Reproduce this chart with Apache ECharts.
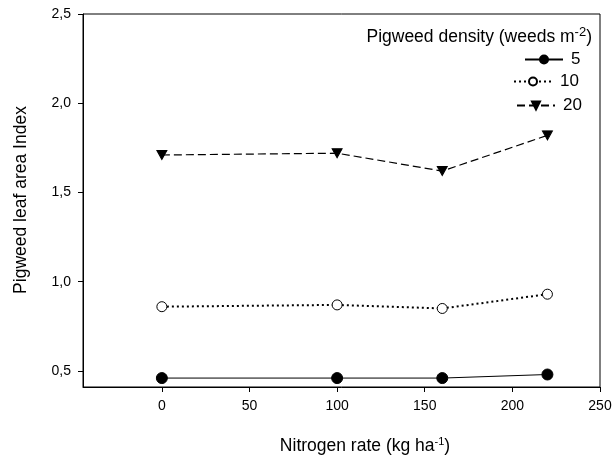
<!DOCTYPE html>
<html><head><meta charset="utf-8">
<script src="https://cdn.jsdelivr.net/npm/echarts@6/dist/echarts.min.js"></script>
<style>html,body{margin:0;padding:0;background:#fff}#c{width:613px;height:462px}</style>
</head><body><div id="c"></div>
<script>
const nitrogen = [0, 100, 160, 220];
const density5 = [0.46, 0.46, 0.46, 0.48];
const density10 = [0.86, 0.87, 0.85, 0.93];
const density20 = [1.71, 1.72, 1.62, 1.82];
const seriesNames = ['5', '10', '20'];
const xTicks = [0, 50, 100, 150, 200, 250];
const yTicks = [0.5, 1.0, 1.5, 2.0, 2.5];

const FONT = "'Liberation Sans', Arial, sans-serif";
const pair = (ys) => nitrogen.map((x, i) => [x, ys[i]]);
const chart = echarts.init(document.getElementById('c'), null, {renderer: 'canvas'});

function legendFor(name, left, top) {
  return {
    data: [name], orient: 'vertical', left: left, top: top,
    itemWidth: 38, itemHeight: 10, itemGap: 0, padding: 0,
    textStyle: {fontFamily: FONT, fontSize: 17, color: '#000', padding: [0, 0, 0, 3]},
    selectedMode: false
  };
}

chart.setOption({
  animation: false,
  grid: {left: 83, right: 13, top: 14, bottom: 75, show: true, borderColor: '#000', borderWidth: 1, outerBoundsMode: 'none'},
  xAxis: {
    type: 'value', min: -45, max: 250,
    axisLine: {show: true, onZero: false, lineStyle: {color: '#000', width: 1}},
    axisTick: {show: true, length: 5, inside: false, customValues: xTicks, lineStyle: {color: '#000'}},
    axisLabel: {customValues: xTicks, margin: 12, fontFamily: FONT, fontSize: 14, color: '#000'},
    splitLine: {show: false}
  },
  yAxis: {
    type: 'value', min: 0.41, max: 2.5,
    axisLine: {show: true, onZero: false, lineStyle: {color: '#000', width: 1}},
    axisTick: {show: true, length: 5, inside: false, customValues: yTicks, lineStyle: {color: '#000'}},
    axisLabel: {customValues: yTicks, margin: 12, fontFamily: FONT, fontSize: 14, color: '#000',
      formatter: v => v.toFixed(1).replace('.', ',')},
    splitLine: {show: false}
  },
  legend: [
    legendFor(seriesNames[0], 524, 51),
    legendFor(seriesNames[1], 513, 73),
    legendFor(seriesNames[2], 516, 97)
  ],
  graphic: [
    {type: 'text', x: 365, y: 446, style: {
      text: 'Nitrogen rate (kg ha{sup|-1})', fontFamily: FONT, fontSize: 17.5, fill: '#000',
      align: 'center', verticalAlign: 'middle',
      rich: {sup: {fontSize: 11, fontFamily: FONT, verticalAlign: 'top', lineHeight: 20}}
    }},
    {type: 'text', x: 21, y: 200, rotation: Math.PI / 2, style: {
      text: 'Pigweed leaf area Index', fontFamily: FONT, fontSize: 17.5, fill: '#000',
      align: 'center', verticalAlign: 'middle'
    }},
    {type: 'text', x: 592, y: 37, style: {
      text: 'Pigweed density (weeds m{sup|-2})', fontFamily: FONT, fontSize: 17.5, fill: '#000',
      align: 'right', verticalAlign: 'middle',
      rich: {sup: {fontSize: 13, fontFamily: FONT, verticalAlign: 'top', lineHeight: 22}}
    }}
  ],
  series: [
    {name: seriesNames[0], type: 'line', data: pair(density5), symbol: 'circle', symbolSize: 11,
      itemStyle: {color: '#000', borderColor: '#000', borderWidth: 1},
      lineStyle: {color: '#000', width: 1, type: 'solid'}},
    {name: seriesNames[1], type: 'line', data: pair(density10), symbol: 'circle', symbolSize: 10,
      itemStyle: {color: '#fff', borderColor: '#000', borderWidth: 1},
      lineStyle: {color: '#000', width: 2, type: [2, 3]}},
    {name: seriesNames[2], type: 'line', data: pair(density20), symbol: 'triangle', symbolRotate: 180, symbolSize: [10, 9],
      itemStyle: {color: '#000', borderColor: '#000', borderWidth: 1},
      lineStyle: {color: '#000', width: 1.2, type: [8, 4]}}
  ]
});
</script></body></html>
